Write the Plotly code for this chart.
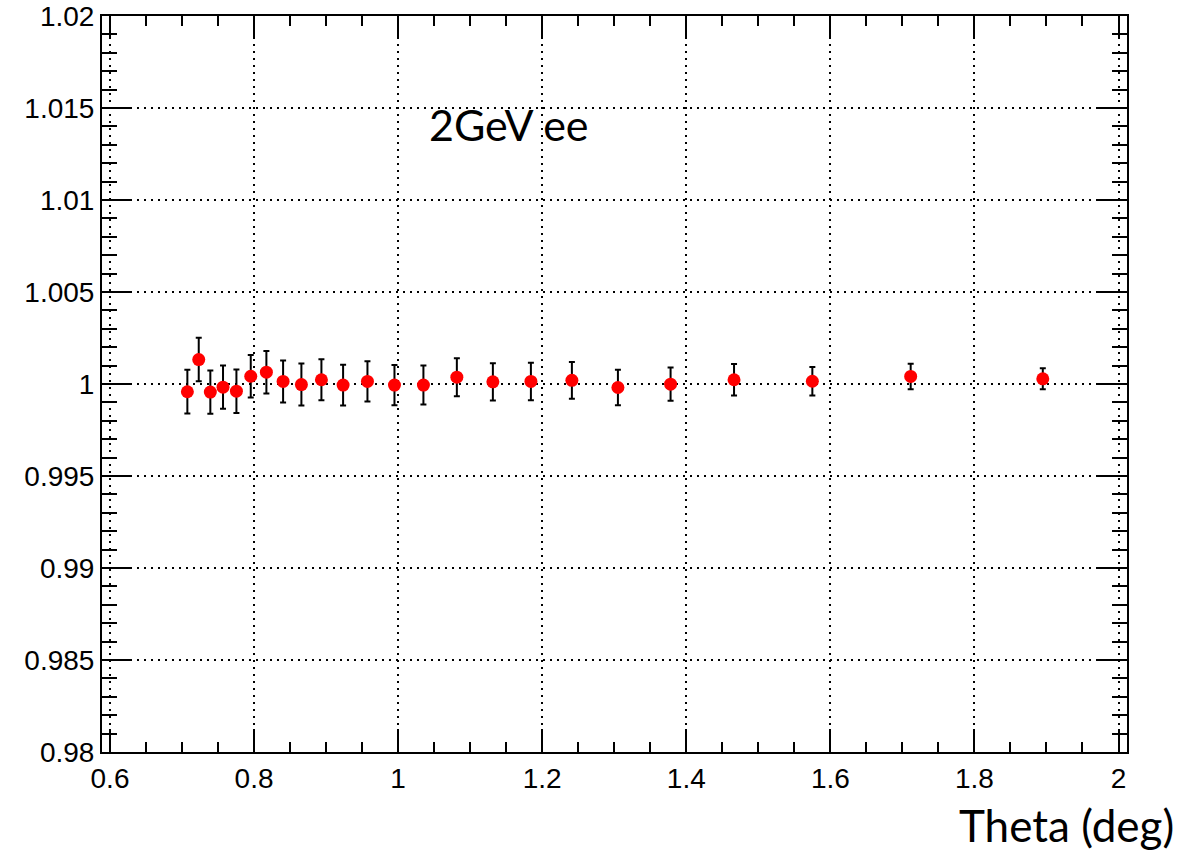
import plotly.graph_objects as go

# Data
theta = [0.7074, 0.7232, 0.7393, 0.7569, 0.7755, 0.7954, 0.8171, 0.8403, 0.8657, 0.8935,
         0.9236, 0.9574, 0.9949, 1.0351, 1.0815, 1.1315, 1.1843, 1.2412, 1.3051, 1.3782,
         1.4663, 1.5750, 1.7115, 1.8949]
ratio = [0.99958, 1.00133, 0.99956, 0.99983, 0.99961, 1.00042, 1.00064, 1.00014, 0.99997, 1.00023,
         0.99994, 1.00014, 0.99994, 0.99994, 1.00037, 1.00012, 1.00014, 1.00020, 0.99981, 0.99999,
         1.00023, 1.00015, 1.00041, 1.00028]
ratio_err = [0.00119, 0.00118, 0.00118, 0.00118, 0.00118, 0.00115, 0.00115, 0.00114, 0.00114, 0.00111,
             0.00111, 0.00109, 0.00109, 0.00106, 0.00103, 0.00101, 0.00102, 0.00100, 0.00096, 0.00090,
             0.00086, 0.00078, 0.00069, 0.00057]

x_tickvals = [0.6, 0.8, 1.0, 1.2, 1.4, 1.6, 1.8, 2.0]
x_ticktext = ["0.6", "0.8", "1", "1.2", "1.4", "1.6", "1.8", "2"]
y_tickvals = [0.98, 0.985, 0.99, 0.995, 1.0, 1.005, 1.01, 1.015, 1.02]
y_ticktext = ["0.98", "0.985", "0.99", "0.995", "1", "1.005", "1.01", "1.015", "1.02"]

title_text = "2GeV ee"
x_title = "Theta (deg)"

fig = go.Figure()
fig.add_trace(go.Scatter(
    x=theta, y=ratio, mode="markers",
    marker=dict(color="#ff0000", size=13, line=dict(width=0)),
    error_y=dict(type="data", array=ratio_err, visible=True, color="black", thickness=2, width=3),
    showlegend=False,
))

tick_font = dict(family="Liberation Sans, Arial, sans-serif", size=28, color="black")

fig.update_xaxes(
    range=[0.5889, 2.0118], automargin=False,
    tickvals=x_tickvals, ticktext=x_ticktext,
    ticks="inside", ticklen=23, tickwidth=2, tickcolor="black",
    minor=dict(ticks="inside", ticklen=10, tickwidth=2, tickcolor="black", dtick=0.05, tick0=0.6, showgrid=False),
    showline=True, linewidth=2, linecolor="black", mirror="ticks",
    showgrid=True, gridcolor="black", gridwidth=1.5, griddash="2px,5px",
    zeroline=False, tickfont=tick_font,
)
fig.update_yaxes(
    range=[0.98, 1.02], automargin=False,
    tickvals=y_tickvals, ticktext=y_ticktext,
    ticks="inside", ticklen=30, tickwidth=2, tickcolor="black",
    minor=dict(ticks="inside", ticklen=15, tickwidth=2, tickcolor="black", dtick=0.001, tick0=0.98, showgrid=False),
    showline=True, linewidth=2, linecolor="black", mirror="ticks",
    showgrid=True, gridcolor="black", gridwidth=1.5, griddash="2px,5px",
    zeroline=False, tickfont=tick_font,
)

fig.add_annotation(
    text=title_text, xref="paper", yref="paper", x=0.317, y=0.853,
    xanchor="left", yanchor="middle", showarrow=False,
    font=dict(family="Lato, Open Sans, sans-serif", size=43, color="black"),
)
fig.add_annotation(
    text=x_title, xref="paper", yref="paper", x=0.834, y=-0.099,
    xanchor="left", yanchor="middle", showarrow=False,
    font=dict(family="Lato, Open Sans, sans-serif", size=44, color="black"),
)

fig.update_layout(
    width=1204, height=852,
    margin=dict(l=102, r=77, t=16, b=100),
    paper_bgcolor="white", plot_bgcolor="white",
)

fig.write_html("out.html")
